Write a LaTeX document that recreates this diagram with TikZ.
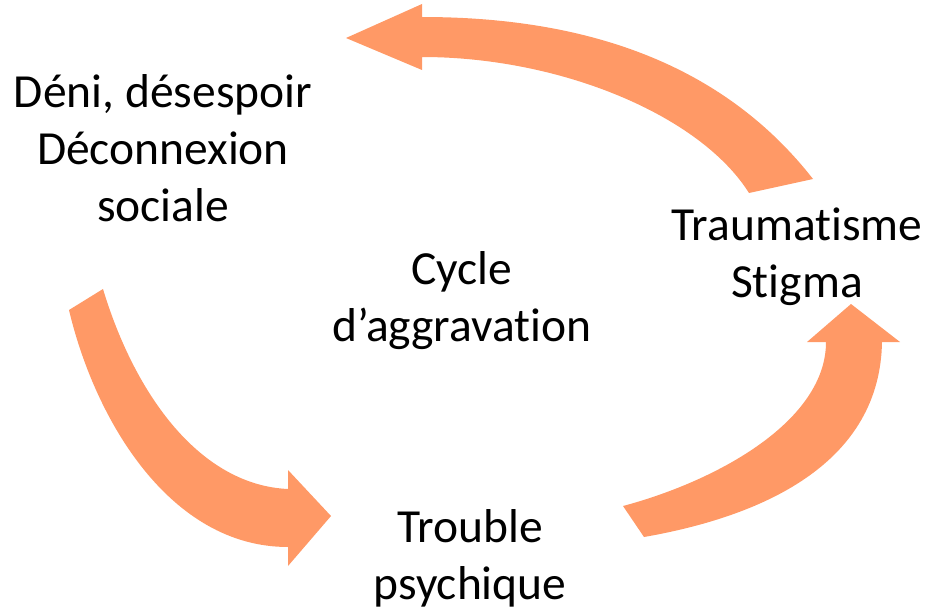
\documentclass[tikz,border=0pt]{standalone}
\usepackage{fontspec}
\setmainfont{Carlito}[Ligatures=NoCommon]
\definecolor{arrowfill}{HTML}{FF9966}
\begin{document}
\begin{tikzpicture}[x=1pt,y=-1pt,
  label/.style={align=center,font=\fontsize{47.5}{57}\selectfont,text=black,inner sep=0pt},
  bigarrow/.style={fill=arrowfill,draw=none}]
\useasboundingbox (0,0) rectangle (931,610);

% labels of the cycle
\node[label] (deni)    at (163,148) {Déni, désespoir\\Déconnexion\\sociale};
\node[label] (trauma)  at (797,257) {Traumatisme\\Stigma};
\node[label] (cycle)   at (462,301) {Cycle\\d’aggravation};
\node[label] (trouble) at (470,558) {Trouble\\psychique};

% upper arrow: trauma -> deni
\path[bigarrow] (346,38) -- (422,4) -- (422,17)
  .. controls (580,17) and (720,60) .. (813,179)
  -- (749,193)
  .. controls (700,115) and (560,57) .. (422,57)
  -- (422,70) -- cycle;

% left arrow: deni -> trouble
\path[bigarrow] (69,310)
  .. controls (95,420) and (170,547) .. (288,547)
  -- (288,566) -- (331,516) -- (288,470) -- (288,489)
  .. controls (200,485) and (135,395) .. (103,289)
  -- cycle;

% right arrow: trouble -> trauma
\path[bigarrow] (623,506)
  .. controls (720,480) and (826,420) .. (826,342)
  -- (807,342) -- (851,304) -- (900,342) -- (882,342)
  .. controls (880,460) and (770,515) .. (644,537)
  -- cycle;
\end{tikzpicture}
\end{document}
